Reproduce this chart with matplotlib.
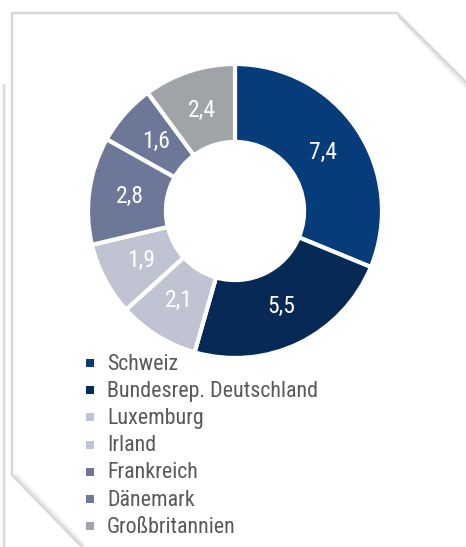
import numpy as np
import matplotlib.pyplot as plt
from matplotlib import font_manager

# data
countries = ["Schweiz", "Bundesrep. Deutschland", "Luxemburg", "Irland",
             "Frankreich", "Dänemark", "Großbritannien"]
values = [7.4, 5.5, 2.1, 1.9, 2.8, 1.6, 2.4]
value_labels = ["7,4", "5,5", "2,1", "1,9", "2,8", "1,6", "2,4"]
colors = ["#073c7a", "#062956", "#c0c3d1", "#c0c3d1",
          "#6d7797", "#6d7797", "#a0a3a7"]


def pick_narrow_font():
    # look for a condensed sans face, like Arial Narrow in the original
    fonts = font_manager.fontManager.ttflist
    prefs = ["Liberation Sans Narrow", "Roboto Condensed", "Open Sans Condensed",
             "DejaVu Sans"]
    for p in prefs:
        for f in fonts:
            fn = f.fname.lower()
            if f.name == p and f.weight in (400, "normal", "regular") and f.style == "normal" \
                    and ("narrow" in fn or "condensed" in fn):
                return font_manager.FontProperties(fname=f.fname)
    for f in fonts:
        fn = f.fname.lower()
        if ("narrow" in fn or "condensed" in fn) and "bold" not in fn \
                and "italic" not in fn and "oblique" not in fn and "mono" not in fn \
                and "serif" not in fn:
            return font_manager.FontProperties(fname=f.fname)
    return font_manager.FontProperties(family="Liberation Sans")


FP = pick_narrow_font()

W, H = 466, 547
fig = plt.figure(figsize=(W / 100, H / 100), dpi=100)

# page frame with folded corners (pixel coordinates)
bg = fig.add_axes([0, 0, 1, 1])
bg.set_xlim(0, W)
bg.set_ylim(H, 0)
bg.axis("off")
for k in range(1, 7):
    a = 0.06 * (7 - k) / 6
    bg.plot([397 + k * 0.3, 470 - k], [13 + k, 86 + k * 0.3], color="black",
            alpha=a, lw=1.2, solid_capstyle="butt")
    bg.plot([12 + k, 82 + k * 0.7], [475 - k * 0.3, 547 - k * 0.3], color="black",
            alpha=a, lw=1.2, solid_capstyle="butt")
    bg.plot([6 - k * 0.8, 6 - k * 0.8], [85, 547], color="black",
            alpha=a * 1.2, lw=1.2)
bg.plot([12, 12, 397, 470], [475, 13, 13, 86], color="#d9d9d9", lw=1.8,
        solid_joinstyle="miter")
bg.plot([12, 82], [475, 547], color="#d9d9d9", lw=1.8)

# donut
cx, cy, r = 235, 211, 147
ax = fig.add_axes([(cx - r) / W, 1 - (cy + r) / H, 2 * r / W, 2 * r / H])
wedges, _ = ax.pie(values, colors=colors, startangle=90, counterclock=False,
                   radius=1.0,
                   wedgeprops=dict(width=0.53, edgecolor="white", linewidth=3))
ax.set_xlim(-1, 1)
ax.set_ylim(-1, 1)
ax.set_aspect("equal")

for w, lab in zip(wedges, value_labels):
    ang = np.deg2rad((w.theta1 + w.theta2) / 2)
    ax.text(0.72 * np.cos(ang), 0.72 * np.sin(ang), lab, color="white",
            fontproperties=FP, fontsize=17, ha="center", va="center")

# legend
lx, ly0, step = 90, 363, 27.2
for i, (name, col) in enumerate(zip(countries, colors)):
    y = ly0 + i * step
    bg.add_patch(plt.Rectangle((lx - 4, y - 4), 8, 8, color=col, lw=0))
    bg.text(lx + 17, y + 1, name, color="#595959", fontproperties=FP,
            fontsize=15.8, ha="left", va="center")

fig.savefig("out.png", dpi=100)
